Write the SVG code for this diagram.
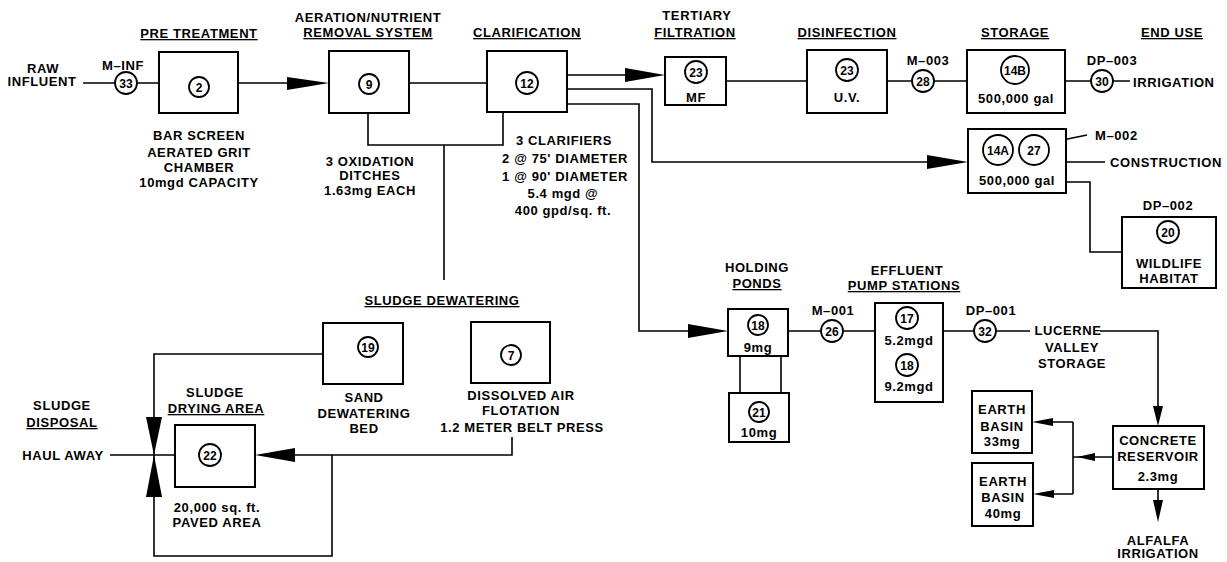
<svg xmlns="http://www.w3.org/2000/svg" width="1227" height="562" viewBox="0 0 1227 562">
<style>
.t{font-family:"Liberation Sans",Arial,sans-serif;font-weight:bold;font-size:13px;letter-spacing:0.6px;text-anchor:middle;fill:#000}
.s{text-anchor:start}
.u{text-decoration:underline}
.n{font-size:12px;letter-spacing:0}
.box{fill:#fff;stroke:#000;stroke-width:2}
.c{fill:#fff;stroke:#000;stroke-width:1.8}
.ln{fill:none;stroke:#000;stroke-width:1.6}
.ah{fill:#000;stroke:none}
</style>
<rect width="1227" height="562" fill="#fff"/>
<g id="connectors">
<path class="ln" d="M83 83H115M137 83H159M238 83H290M409 83H487"/>
<path class="ln" d="M368 113V145H503V112M444 145V280"/>
<path class="ln" d="M567 75H627M567 89H652V162H929M567 104H639V331H690"/>
<path class="ln" d="M726 81H807M887 81H912M934 81H967M1065 81H1091M1113 81H1130"/>
<path class="ln" d="M1048 143L1087 135M1066 162H1105M1066 182H1090V252H1122"/>
<path class="ln" d="M788 331H821M843 331H875M943 331H974M996 331H1030M1100 331H1158V410"/>
<path class="ln" d="M740 356V393M781 356V393"/>
<path class="ln" d="M1113 457H1073M1073 422V494M1073 422H1050M1073 494H1051M1158 489V504"/>
<path class="ln" d="M110 455H175M512 437V455H293M332 455V556H154V354H323"/>
<path class="ah" d="M287 77L329 83L287 90Z"/>
<path class="ah" d="M625 68L665 75L625 82Z"/>
<path class="ah" d="M927 155L968 162L927 169Z"/>
<path class="ah" d="M688 324L728 331L688 338Z"/>
<path class="ah" d="M295 448L255 455L295 462Z"/>
<path class="ah" d="M146 417L154 455L162 417Z"/>
<path class="ah" d="M146 497L154 455L162 497Z"/>
<path class="ah" d="M1153 406L1158 426L1163 406Z"/>
<path class="ah" d="M1153 500L1158 522L1163 500Z"/>
<path class="ah" d="M1053 418L1032 422L1053 426Z"/>
<path class="ah" d="M1054 490L1033 494L1054 498Z"/>
<path class="ah" d="M1095 453L1077 457L1095 461Z"/>
</g>
<g id="raw-influent">
<text class="t" x="43" y="73">RAW</text>
<text class="t" x="42" y="86">INFLUENT</text>
</g>
<g id="m-inf">
<text class="t" x="123" y="70">M–INF</text>
<circle class="c" cx="126" cy="83" r="11"/>
<text class="t n" x="126" y="87.5">33</text>
</g>
<g id="pre-treatment">
<text class="t u" x="199" y="38">PRE TREATMENT</text>
<rect class="box" x="159" y="52" width="79" height="61"/>
<circle class="c" cx="199" cy="87" r="10"/>
<text class="t n" x="199" y="91.5">2</text>
<text class="t" x="199" y="140">BAR SCREEN</text>
<text class="t" x="199" y="157">AERATED GRIT</text>
<text class="t" x="199" y="172">CHAMBER</text>
<text class="t" x="199" y="187">10mgd CAPACITY</text>
</g>
<g id="aeration">
<text class="t" x="368" y="22">AERATION/NUTRIENT</text>
<text class="t u" x="368" y="37">REMOVAL SYSTEM</text>
<rect class="box" x="329" y="51" width="80" height="62"/>
<circle class="c" cx="369" cy="84" r="10"/>
<text class="t n" x="369" y="88.5">9</text>
<text class="t" x="370" y="166">3 OXIDATION</text>
<text class="t" x="370" y="180">DITCHES</text>
<text class="t" x="370" y="195">1.63mg EACH</text>
</g>
<g id="clarification">
<text class="t u" x="527" y="37">CLARIFICATION</text>
<rect class="box" x="487" y="51" width="80" height="61"/>
<circle class="c" cx="527" cy="83" r="11"/>
<text class="t n" x="527" y="87.5">12</text>
<text class="t" x="564" y="145">3 CLARIFIERS</text>
<text class="t" x="565" y="163">2 @ 75' DIAMETER</text>
<text class="t" x="565" y="181">1 @ 90' DIAMETER</text>
<text class="t" x="563" y="198">5.4 mgd @</text>
<text class="t" x="563" y="215">400 gpd/sq. ft.</text>
</g>
<g id="tertiary">
<text class="t" x="697" y="20">TERTIARY</text>
<text class="t u" x="695" y="37">FILTRATION</text>
<rect class="box" x="665" y="57" width="61" height="48"/>
<circle class="c" cx="696" cy="72" r="11"/>
<text class="t n" x="696" y="76.5">23</text>
<text class="t" x="696" y="102">MF</text>
</g>
<g id="disinfection">
<text class="t u" x="847" y="37">DISINFECTION</text>
<rect class="box" x="807" y="50" width="80" height="63"/>
<circle class="c" cx="847" cy="70" r="11"/>
<text class="t n" x="847" y="74.5">23</text>
<text class="t" x="847" y="102">U.V.</text>
</g>
<g id="m-003">
<text class="t" x="928" y="65">M–003</text>
<circle class="c" cx="923" cy="81" r="11"/>
<text class="t n" x="923" y="85.5">28</text>
</g>
<g id="storage-14b">
<text class="t u" x="1015" y="37">STORAGE</text>
<rect class="box" x="967" y="50" width="98" height="63"/>
<circle class="c" cx="1015" cy="70" r="14"/>
<text class="t n" x="1015" y="74.5">14B</text>
<text class="t" x="1016" y="103">500,000 gal</text>
</g>
<g id="dp-003">
<text class="t u" x="1172" y="37">END USE</text>
<text class="t" x="1112" y="65">DP–003</text>
<circle class="c" cx="1102" cy="81" r="11"/>
<text class="t n" x="1102" y="85.5">30</text>
<text class="t s" x="1133" y="87">IRRIGATION</text>
</g>
<g id="storage-14a">
<rect class="box" x="968" y="129" width="98" height="64"/>
<circle class="c" cx="998" cy="150" r="15"/>
<text class="t n" x="998" y="154.5">14A</text>
<circle class="c" cx="1034" cy="150" r="15"/>
<text class="t n" x="1034" y="154.5">27</text>
<text class="t" x="1017" y="185">500,000 gal</text>
<text class="t s" x="1095" y="140">M–002</text>
<text class="t s" x="1110" y="167">CONSTRUCTION</text>
</g>
<g id="wildlife">
<text class="t" x="1168" y="210">DP–002</text>
<rect class="box" x="1122" y="217" width="94" height="71"/>
<circle class="c" cx="1168" cy="232" r="11"/>
<text class="t n" x="1168" y="236.5">20</text>
<text class="t" x="1169" y="268">WILDLIFE</text>
<text class="t" x="1169" y="283">HABITAT</text>
</g>
<g id="holding-ponds">
<text class="t" x="757" y="272">HOLDING</text>
<text class="t u" x="757" y="288">PONDS</text>
<rect class="box" x="728" y="309" width="60" height="47"/>
<circle class="c" cx="758" cy="325" r="10"/>
<text class="t n" x="758" y="329.5">18</text>
<text class="t" x="758" y="352">9mg</text>
<rect class="box" x="729" y="393" width="60" height="49"/>
<circle class="c" cx="759" cy="412" r="10"/>
<text class="t n" x="759" y="416.5">21</text>
<text class="t" x="759" y="437">10mg</text>
</g>
<g id="m-001">
<text class="t" x="833" y="315">M–001</text>
<circle class="c" cx="832" cy="331" r="11"/>
<text class="t n" x="832" y="335.5">26</text>
</g>
<g id="pump-stations">
<text class="t" x="907" y="275">EFFLUENT</text>
<text class="t u" x="904" y="290">PUMP STATIONS</text>
<rect class="box" x="875" y="303" width="68" height="99"/>
<circle class="c" cx="907" cy="318" r="11"/>
<text class="t n" x="907" y="322.5">17</text>
<text class="t" x="909" y="345">5.2mgd</text>
<circle class="c" cx="907" cy="365" r="11"/>
<text class="t n" x="907" y="369.5">18</text>
<text class="t" x="909" y="391">9.2mgd</text>
</g>
<g id="dp-001">
<text class="t" x="991" y="315">DP–001</text>
<circle class="c" cx="985" cy="331" r="11"/>
<text class="t n" x="985" y="335.5">32</text>
</g>
<g id="lucerne">
<text class="t" x="1068" y="335">LUCERNE</text>
<text class="t" x="1072" y="352">VALLEY</text>
<text class="t" x="1072" y="368">STORAGE</text>
</g>
<g id="concrete-reservoir">
<rect class="box" x="1113" y="426" width="91" height="63"/>
<text class="t" x="1158" y="445">CONCRETE</text>
<text class="t" x="1158" y="461">RESERVOIR</text>
<text class="t" x="1158" y="481">2.3mg</text>
</g>
<g id="alfalfa">
<text class="t" x="1158" y="545">ALFALFA</text>
<text class="t" x="1158" y="558">IRRIGATION</text>
</g>
<g id="earth-basin-33">
<rect class="box" x="972" y="391" width="60" height="62"/>
<text class="t" x="1002" y="414">EARTH</text>
<text class="t" x="1002" y="431">BASIN</text>
<text class="t" x="1002" y="446">33mg</text>
</g>
<g id="earth-basin-40">
<rect class="box" x="972" y="463" width="61" height="63"/>
<text class="t" x="1003" y="486">EARTH</text>
<text class="t" x="1003" y="502">BASIN</text>
<text class="t" x="1003" y="518">40mg</text>
</g>
<g id="sludge-dewatering">
<text class="t u" x="442" y="305">SLUDGE DEWATERING</text>
</g>
<g id="sand-bed">
<rect class="box" x="323" y="323" width="80" height="61"/>
<circle class="c" cx="368" cy="347" r="10"/>
<text class="t n" x="368" y="351.5">19</text>
<text class="t" x="364" y="402">SAND</text>
<text class="t" x="364" y="418">DEWATERING</text>
<text class="t" x="364" y="433">BED</text>
</g>
<g id="daf">
<rect class="box" x="471" y="322" width="79" height="61"/>
<circle class="c" cx="511" cy="355" r="10"/>
<text class="t n" x="511" y="359.5">7</text>
<text class="t" x="521" y="400">DISSOLVED AIR</text>
<text class="t" x="521" y="415">FLOTATION</text>
<text class="t" x="522" y="432">1.2 METER BELT PRESS</text>
</g>
<g id="drying-area">
<text class="t" x="215" y="397">SLUDGE</text>
<text class="t u" x="216" y="413">DRYING AREA</text>
<rect class="box" x="175" y="425" width="80" height="62"/>
<circle class="c" cx="210" cy="455" r="11"/>
<text class="t n" x="210" y="459.5">22</text>
<text class="t" x="217" y="512">20,000 sq. ft.</text>
<text class="t" x="217" y="527">PAVED AREA</text>
</g>
<g id="sludge-disposal">
<text class="t" x="62" y="410">SLUDGE</text>
<text class="t u" x="62" y="427">DISPOSAL</text>
<text class="t" x="63" y="460">HAUL AWAY</text>
</g>
</svg>
